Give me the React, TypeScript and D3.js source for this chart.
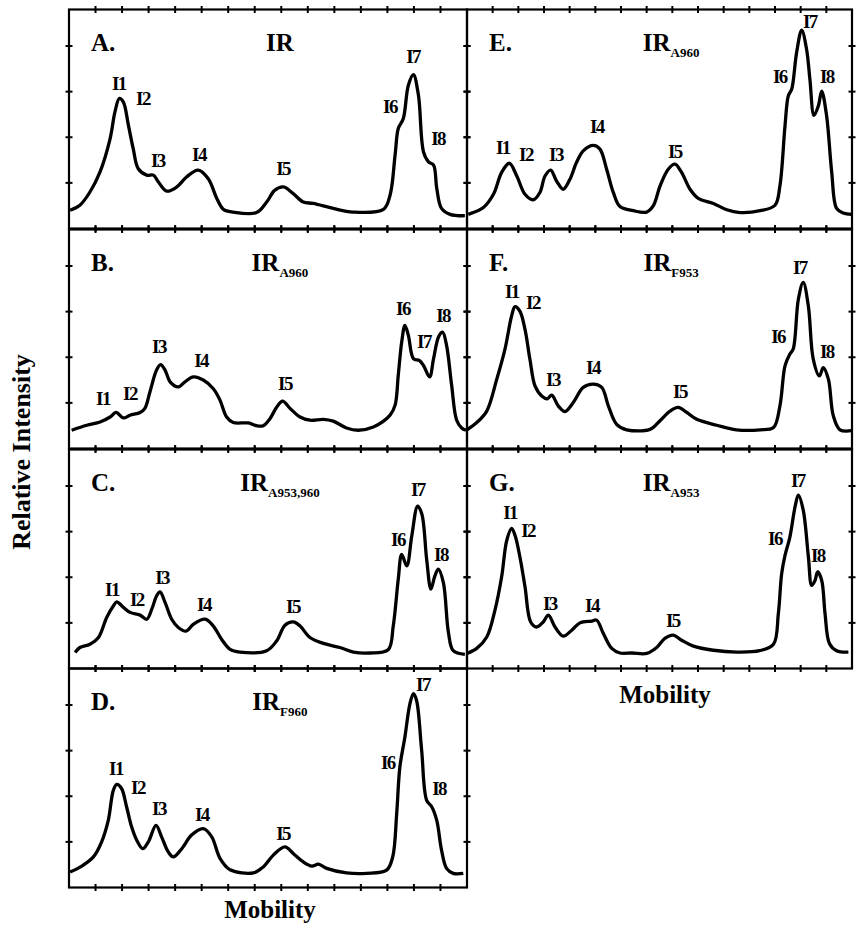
import React from "react";
import * as d3 from "d3";

const W = 859;
const H = 929;

// each trace: [mobility in tick units 0..15, intensity in tick units]
const traceA: [number, number][] = [
  [0.04, 0.4], [0.41, 0.51], [0.79, 0.8], [1.17, 1.24], [1.55, 1.97], [1.73, 2.55], [1.9, 2.85],
  [2.05, 2.77], [2.24, 2.26], [2.42, 1.75], [2.61, 1.31], [2.93, 1.17], [3.18, 1.17], [3.37, 1.02],
  [3.68, 0.82], [4.06, 0.91], [4.43, 1.13], [4.87, 1.28], [5.25, 1.09], [5.57, 0.66], [5.82, 0.42],
  [6.19, 0.36], [7.07, 0.35], [7.45, 0.58], [7.76, 0.84], [8.08, 0.91], [8.44, 0.77], [8.83, 0.58],
  [9.2, 0.55], [9.96, 0.44], [10.7, 0.36], [11.85, 0.42], [12.1, 0.73], [12.29, 1.61], [12.41, 2.19],
  [12.6, 2.41], [12.79, 3.14], [12.98, 3.37], [13.17, 2.92], [13.36, 1.68], [13.55, 1.46], [13.74, 1.39],
  [13.86, 0.88], [14.04, 0.44], [14.36, 0.31], [14.92, 0.28],
];
const traceB: [number, number][] = [
  [0.1, 0.4], [0.67, 0.51], [1.17, 0.58], [1.55, 0.69], [1.77, 0.79], [2.05, 0.67], [2.3, 0.73],
  [2.68, 0.79], [2.86, 0.88], [3.05, 1.24], [3.3, 1.72], [3.45, 1.84], [3.62, 1.72], [3.81, 1.46],
  [4.12, 1.35], [4.37, 1.46], [4.69, 1.57], [5.06, 1.5], [5.44, 1.31], [5.69, 1.06], [5.94, 0.69],
  [6.19, 0.57], [6.76, 0.56], [7.07, 0.5], [7.32, 0.5], [7.58, 0.66], [7.83, 0.91], [8.05, 1.04],
  [8.33, 0.88], [8.71, 0.69], [9.08, 0.62], [9.59, 0.64], [9.96, 0.6], [10.46, 0.45], [10.9, 0.4],
  [11.47, 0.47], [12.1, 0.73], [12.29, 0.95], [12.41, 1.61], [12.54, 2.34], [12.66, 2.7], [12.79, 2.48],
  [12.98, 1.97], [13.2, 1.93], [13.36, 1.82], [13.59, 1.57], [13.74, 1.97], [13.93, 2.45], [14.08, 2.55],
  [14.23, 2.26], [14.42, 1.39], [14.61, 0.62], [14.8, 0.45], [14.96, 0.4],
];
const traceC: [number, number][] = [
  [0.23, 0.35], [0.41, 0.46], [0.79, 0.53], [1.11, 0.68], [1.42, 1.12], [1.67, 1.37], [1.8, 1.46],
  [2.05, 1.34], [2.3, 1.23], [2.68, 1.17], [2.93, 1.08], [3.12, 1.3], [3.3, 1.59], [3.43, 1.68],
  [3.62, 1.45], [3.87, 1.08], [4.12, 0.9], [4.41, 0.82], [4.69, 0.97], [5.13, 1.08], [5.44, 0.93],
  [5.75, 0.64], [6.07, 0.42], [6.44, 0.36], [7.45, 0.39], [7.83, 0.61], [8.14, 0.95], [8.45, 1.02],
  [8.71, 0.93], [9.08, 0.68], [9.59, 0.55], [10.21, 0.46], [10.72, 0.36], [11.34, 0.34], [12.03, 0.41],
  [12.22, 0.93], [12.41, 1.96], [12.54, 2.5], [12.73, 2.25], [12.92, 2.91], [13.14, 3.56], [13.3, 3.38],
  [13.48, 2.39], [13.64, 1.74], [13.79, 2.03], [13.92, 2.18], [14.11, 1.88], [14.3, 0.79], [14.48, 0.39],
  [14.92, 0.31],
];
const traceD: [number, number][] = [
  [0.04, 0.34], [0.48, 0.47], [0.92, 0.67], [1.23, 1.0], [1.48, 1.47], [1.67, 2.13], [1.8, 2.26],
  [1.98, 2.17], [2.17, 1.77], [2.36, 1.33], [2.55, 1.04], [2.78, 0.85], [2.99, 1.0], [3.28, 1.36],
  [3.49, 1.11], [3.74, 0.78], [3.93, 0.67], [4.25, 0.85], [4.62, 1.15], [5.06, 1.29], [5.38, 1.11],
  [5.69, 0.64], [6.07, 0.39], [6.95, 0.32], [7.32, 0.45], [7.7, 0.71], [8.14, 0.89], [8.46, 0.74],
  [8.83, 0.56], [9.15, 0.47], [9.4, 0.51], [9.71, 0.42], [10.46, 0.32], [11.22, 0.31], [11.97, 0.38],
  [12.2, 0.67], [12.35, 1.62], [12.47, 2.64], [12.66, 3.3], [12.85, 4.03], [12.98, 4.25], [13.1, 4.1],
  [13.29, 3.01], [13.48, 1.91], [13.67, 1.77], [13.86, 1.47], [14.04, 0.82], [14.23, 0.42], [14.48, 0.31],
  [14.86, 0.31],
];
const traceE: [number, number][] = [
  [0.05, 0.31], [0.64, 0.46], [1.03, 0.75], [1.35, 1.23], [1.65, 1.43], [1.94, 1.15], [2.26, 0.75],
  [2.58, 0.63], [2.84, 0.79], [3.04, 1.15], [3.26, 1.28], [3.49, 1.04], [3.75, 0.86], [4.01, 1.08],
  [4.27, 1.45], [4.53, 1.7], [4.92, 1.82], [5.18, 1.74], [5.44, 1.3], [5.7, 0.79], [5.96, 0.48],
  [6.48, 0.39], [7.0, 0.36], [7.26, 0.5], [7.52, 0.93], [7.84, 1.3], [8.1, 1.41], [8.36, 1.23],
  [8.69, 0.86], [9.01, 0.66], [9.6, 0.55], [10.12, 0.41], [10.64, 0.35], [11.42, 0.39], [12.0, 0.51],
  [12.19, 0.93], [12.39, 2.25], [12.52, 2.91], [12.65, 3.05], [12.84, 3.85], [13.04, 4.35], [13.23, 3.93],
  [13.36, 3.27], [13.52, 2.48], [13.69, 2.69], [13.82, 3.01], [14.01, 2.47], [14.21, 1.23], [14.4, 0.44],
  [14.66, 0.34], [14.99, 0.31],
];
const traceF: [number, number][] = [
  [0.0, 0.41], [0.38, 0.57], [0.77, 0.82], [1.16, 1.52], [1.48, 2.18], [1.74, 2.91], [1.87, 3.11],
  [2.06, 3.01], [2.26, 2.61], [2.45, 1.96], [2.65, 1.37], [2.91, 1.15], [3.13, 1.09], [3.3, 1.17],
  [3.56, 0.93], [3.82, 0.81], [4.14, 1.01], [4.53, 1.34], [4.92, 1.41], [5.25, 1.34], [5.51, 0.93],
  [5.83, 0.53], [6.22, 0.41], [7.13, 0.42], [7.52, 0.61], [7.91, 0.82], [8.23, 0.9], [8.56, 0.79],
  [8.95, 0.64], [9.73, 0.51], [10.5, 0.41], [11.42, 0.41], [11.94, 0.46], [12.19, 0.93], [12.39, 1.81],
  [12.58, 2.07], [12.71, 2.18], [12.91, 3.27], [13.1, 3.64], [13.3, 3.12], [13.49, 1.96], [13.73, 1.59],
  [13.88, 1.77], [14.08, 1.52], [14.27, 0.72], [14.53, 0.41], [14.99, 0.39],
];
const traceG: [number, number][] = [
  [0.0, 0.33], [0.38, 0.44], [0.77, 0.69], [1.09, 1.28], [1.35, 2.01], [1.55, 2.81], [1.74, 3.07],
  [1.87, 2.92], [2.06, 2.45], [2.26, 1.79], [2.48, 1.02], [2.71, 0.91], [2.97, 1.02], [3.17, 1.17],
  [3.43, 0.91], [3.75, 0.71], [4.08, 0.84], [4.4, 1.0], [4.86, 1.04], [5.05, 1.06], [5.31, 0.77],
  [5.64, 0.44], [5.96, 0.34], [6.42, 0.34], [7.0, 0.33], [7.39, 0.46], [7.71, 0.66], [8.04, 0.73],
  [8.36, 0.62], [8.82, 0.49], [9.6, 0.4], [10.5, 0.36], [11.4, 0.39], [11.94, 0.53], [12.13, 1.2],
  [12.26, 2.08], [12.39, 2.48], [12.58, 2.88], [12.78, 3.54], [12.91, 3.8], [13.1, 3.47], [13.3, 2.45],
  [13.43, 1.82], [13.56, 1.93], [13.66, 2.12], [13.82, 1.93], [13.95, 1.2], [14.12, 0.55], [14.4, 0.39],
  [14.86, 0.36],
];

// peak label anchors [mobility, intensity], in order I1..I8
const peakNames = ["I1", "I2", "I3", "I4", "I5", "I6", "I7", "I8"];
const peaksA: [number, number][] = [[1.88, 3.17], [2.79, 2.84], [3.35, 1.49], [4.9, 1.62], [8.07, 1.31], [12.1, 2.67], [12.97, 3.76], [13.91, 1.97]];
const peaksB: [number, number][] = [[1.28, 1.09], [2.3, 1.2], [3.39, 2.23], [4.98, 1.93], [8.14, 1.42], [12.59, 3.06], [13.38, 2.34], [14.1, 2.91]];
const peaksC: [number, number][] = [[1.62, 1.73], [2.56, 1.51], [3.51, 1.99], [5.09, 1.4], [8.44, 1.36], [12.4, 2.82], [13.15, 3.92], [14.02, 2.49]];
const peaksD: [number, number][] = [[1.77, 2.6], [2.6, 2.19], [3.39, 1.73], [5.01, 1.6], [8.07, 1.18], [12.02, 2.74], [13.34, 4.46], [13.95, 2.17]];
const peaksE: [number, number][] = [[1.4, 1.77], [2.3, 1.62], [3.47, 1.62], [5.06, 2.23], [8.1, 1.68], [12.19, 3.33], [13.36, 4.53], [14.02, 3.33]];
const peaksF: [number, number][] = [[1.75, 3.44], [2.57, 3.19], [3.35, 1.51], [4.91, 1.77], [8.3, 1.25], [12.12, 2.45], [12.97, 3.96], [14.02, 2.12]];
const peaksG: [number, number][] = [[1.68, 3.41], [2.38, 3.02], [3.23, 1.42], [4.87, 1.38], [8.02, 1.05], [12.0, 2.84], [12.89, 4.11], [13.67, 2.47]];

const panelLetters = ["A.", "B.", "C.", "D.", "E.", "F.", "G."];
const panelSubs = ["", "A960", "A953,960", "F960", "A960", "F953", "A953"];
const traces = [traceA, traceB, traceC, traceD, traceE, traceF, traceG];
const peaks = [peaksA, peaksB, peaksC, peaksD, peaksE, peaksF, peaksG];

const colX = [69, 467];
const colW = [398, 385];
const rowY = [9.5, 229.5, 449.5, 668.5];
const rowH = 219;
const font = "'Liberation Serif', 'Times New Roman', serif";

function Panel({ i }: { i: number }) {
  const col = i < 4 ? 0 : 1;
  const row = i < 4 ? i : i - 4;
  const x0 = colX[col];
  const w = colW[col];
  const y0 = rowY[row];
  const x = d3.scaleLinear().domain([0, 15]).range([x0, x0 + w]);
  const y = d3.scaleLinear().domain([0, 4.8]).range([y0 + rowH, y0]);
  const line = d3
    .line<[number, number]>()
    .x((d) => x(d[0]))
    .y((d) => y(d[1]))
    .curve(d3.curveCatmullRom.alpha(0.5));
  const tk = 3.5;
  return (
    <g>
      <rect x={x0} y={y0} width={w} height={rowH} fill="none" stroke="#000" strokeWidth={2.2} />
      {d3.range(1, 15).map((t) => (
        <g key={"x" + t} stroke="#000" strokeWidth={2}>
          <line x1={x(t)} x2={x(t)} y1={y0 - tk} y2={y0 + tk} />
          <line x1={x(t)} x2={x(t)} y1={y0 + rowH - tk} y2={y0 + rowH + tk} />
        </g>
      ))}
      {d3.range(1, 5).map((v) => (
        <g key={"y" + v} stroke="#000" strokeWidth={2}>
          <line x1={x0 - tk} x2={x0 + tk} y1={y(v)} y2={y(v)} />
          <line x1={x0 + w - tk} x2={x0 + w + tk} y1={y(v)} y2={y(v)} />
        </g>
      ))}
      <path d={line(traces[i]) || ""} fill="none" stroke="#000" strokeWidth={3.3} strokeLinejoin="round" />
      <text x={x0 + 22} y={y0 + 41} fontSize={25} fontWeight="bold" fontFamily={font}>
        {panelLetters[i]}
      </text>
      <text x={x0 + w * 0.53} y={y0 + 41} fontSize={25} fontWeight="bold" fontFamily={font} textAnchor="middle">
        <tspan>IR</tspan>
        {panelSubs[i] && (
          <tspan fontSize={13} dy={6}>
            {panelSubs[i]}
          </tspan>
        )}
      </text>
      {peaks[i].map((p, k) => (
        <text
          key={k}
          x={x(p[0])}
          y={y(p[1])}
          fontSize={19}
          fontWeight="bold"
          fontFamily={font}
          textAnchor="middle"
          dominantBaseline="central"
          letterSpacing={-1.5}
        >
          {peakNames[k]}
        </text>
      ))}
    </g>
  );
}

export default function App() {
  return (
    <svg width={W} height={H} style={{ display: "block", position: "absolute", left: 0, top: 0, background: "#fff" }}>
      <rect width={W} height={H} fill="#fff" />
      {traces.map((_, i) => (
        <Panel key={i} i={i} />
      ))}
      <text
        transform="translate(30,452) rotate(-90)"
        textAnchor="middle"
        fontSize={26}
        fontWeight="bold"
        fontFamily={font}
      >
        Relative Intensity
      </text>
      <text x={270} y={918} textAnchor="middle" fontSize={25} fontWeight="bold" fontFamily={font}>
        Mobility
      </text>
      <text x={665} y={703} textAnchor="middle" fontSize={25} fontWeight="bold" fontFamily={font}>
        Mobility
      </text>
    </svg>
  );
}
